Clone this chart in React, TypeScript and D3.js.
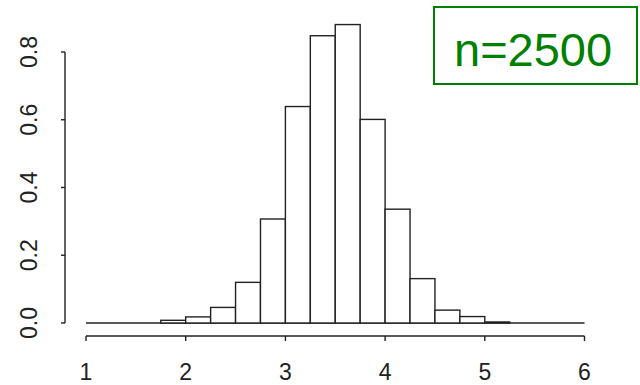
import { useEffect, useRef } from 'react';
import * as d3 from 'd3';

// histogram of 2500 draws, density scale, bin width 0.25
const binStarts = [1, 1.25, 1.5, 1.75, 2, 2.25, 2.5, 2.75, 3, 3.25, 3.5, 3.75, 4, 4.25, 4.5, 4.75, 5, 5.25, 5.5, 5.75];
const densities = [0, 0, 0, 0.008, 0.018, 0.046, 0.12, 0.307, 0.639, 0.848, 0.881, 0.601, 0.336, 0.131, 0.038, 0.019, 0.003, 0, 0, 0];
const binWidth = 0.25;
const xTicks = [1, 2, 3, 4, 5, 6];
const yTicks = [0, 0.2, 0.4, 0.6, 0.8];
const legendText = 'n=2500';

export default function App() {
    const svgRef = useRef<SVGSVGElement>(null);

    useEffect(() => {
        if (!svgRef.current) return;
        const svg = d3.select(svgRef.current);
        svg.selectAll('*').remove();

        const x = d3.scaleLinear().domain([1, 6]).range([86, 584.5]);
        const y = d3.scaleLinear().domain([0, 0.8]).range([323, 52]);
        const font = 'Liberation Sans, Arial, sans-serif';
        const ink = '#222';

        // baseline (empty bins collapse onto it, as in R)
        svg.append('line')
            .attr('x1', x(binStarts[0]))
            .attr('x2', x(binStarts[binStarts.length - 1] + binWidth))
            .attr('y1', y(0)).attr('y2', y(0))
            .attr('stroke', ink).attr('stroke-width', 1.4);

        // bars
        svg.append('g')
            .selectAll('rect')
            .data(binStarts.map((s, i) => ({ s, d: densities[i] })).filter(b => b.d > 0))
            .enter()
            .append('rect')
            .attr('x', d => x(d.s))
            .attr('y', d => y(d.d))
            .attr('width', d => x(d.s + binWidth) - x(d.s))
            .attr('height', d => y(0) - y(d.d))
            .attr('fill', 'white')
            .attr('stroke', ink)
            .attr('stroke-width', 1.4);

        // x axis
        const xa = svg.append('g').attr('transform', 'translate(0,336)');
        xa.append('line')
            .attr('x1', x(1)).attr('x2', x(6))
            .attr('stroke', ink).attr('stroke-width', 1.4);
        xa.selectAll('.tk').data(xTicks).enter().append('line')
            .attr('x1', d => x(d)).attr('x2', d => x(d))
            .attr('y1', 0).attr('y2', 5)
            .attr('stroke', ink).attr('stroke-width', 1.4);
        xa.selectAll('text').data(xTicks).enter().append('text')
            .attr('x', d => x(d)).attr('y', 44)
            .attr('text-anchor', 'middle')
            .attr('font-family', font).attr('font-size', 23)
            .attr('fill', ink)
            .text(d => d);

        // y axis
        const ya = svg.append('g').attr('transform', 'translate(65,0)');
        ya.append('line')
            .attr('y1', y(0)).attr('y2', y(0.8))
            .attr('stroke', ink).attr('stroke-width', 1.4);
        ya.selectAll('.tk').data(yTicks).enter().append('line')
            .attr('y1', d => y(d)).attr('y2', d => y(d))
            .attr('x1', 0).attr('x2', -4)
            .attr('stroke', ink).attr('stroke-width', 1.4);
        ya.selectAll('text').data(yTicks).enter().append('text')
            .attr('transform', d => `translate(-28,${y(d)}) rotate(-90)`)
            .attr('text-anchor', 'middle')
            .attr('font-family', font).attr('font-size', 23)
            .attr('fill', ink)
            .text(d => d.toFixed(1));

        // legend box
        const lg = svg.append('g');
        lg.append('rect')
            .attr('x', 434).attr('y', 7)
            .attr('width', 203).attr('height', 77)
            .attr('fill', 'white')
            .attr('stroke', '#008000').attr('stroke-width', 2);
        lg.append('text')
            .attr('x', 454).attr('y', 66)
            .attr('font-family', font).attr('font-size', 47)
            .attr('fill', '#008000')
            .text(legendText);
    }, []);

    return (
        <svg
            ref={svgRef}
            width={640}
            height={385}
            style={{ position: 'absolute', left: 0, top: 0, background: 'white' }}
        />
    );
}
